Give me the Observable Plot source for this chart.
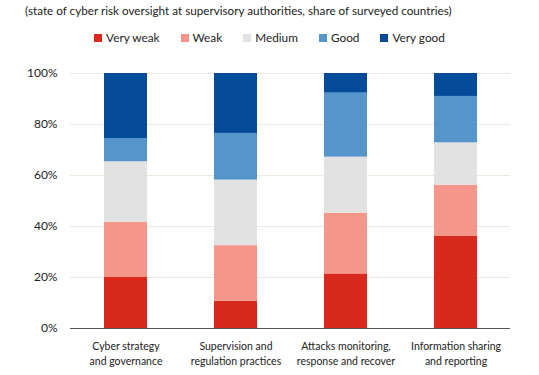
<!DOCTYPE html>
<html>
<head>
<meta charset="utf-8">
<script src="https://cdn.jsdelivr.net/npm/d3@7"></script>
<script src="https://cdn.jsdelivr.net/npm/@observablehq/plot@0.6"></script>
<style>
  html, body { margin: 0; padding: 0; background: #fff; }
  body { width: 539px; height: 375px; overflow: hidden; font-family: Lato, "Open Sans", sans-serif; color: #222; }
  #title { height: 20px; padding-left: 25px; font-size: 11.7px; line-height: 20px; white-space: nowrap; }
  #legend { height: 35px; display: flex; justify-content: center; align-items: center; font-size: 11.8px; padding-left: 0px; box-sizing: border-box; }
  #legend .item { display: flex; align-items: center; margin: 0 10.5px; }
  #legend .sw { width: 8px; height: 8px; margin-right: 4px; }
</style>
</head>
<body>
<div id="title">(state of cyber risk oversight at supervisory authorities, share of surveyed countries)</div>
<div id="legend"></div>
<div id="chart"></div>
<script>
const categories = [
  "Cyber strategy\nand governance",
  "Supervision and\nregulation practices",
  "Attacks monitoring,\nresponse and recover",
  "Information sharing\nand reporting"
];
const levels = ["Very weak", "Weak", "Medium", "Good", "Very good"];
const colors = ["#d9291c", "#f4968a", "#e2e2e2", "#5595cc", "#044c9a"];
// shares (%) per category, in order of levels
const veryWeak = [20.0, 10.7, 21.4, 36.1];
const weak     = [21.6, 21.8, 23.8, 20.1];
const medium   = [23.8, 25.7, 22.0, 16.6];
const good     = [9.1, 18.3, 25.1, 18.2];
const veryGood = [25.5, 23.5, 7.7, 9.0];
const yTicks = [0, 20, 40, 60, 80, 100];

const series = [veryWeak, weak, medium, good, veryGood];
const rows = [];
categories.forEach((c, i) => {
  levels.forEach((l, j) => rows.push({category: c, level: l, value: series[j][i]}));
});

const legend = document.getElementById("legend");
levels.forEach((l, j) => {
  const it = document.createElement("div");
  it.className = "item";
  it.innerHTML = `<span class="sw" style="background:${colors[j]}"></span><span>${l}</span>`;
  legend.appendChild(it);
});

const chart = Plot.plot({
  width: 539,
  height: 320,
  marginTop: 18,
  marginBottom: 47,
  marginLeft: 70,
  marginRight: 29,
  style: {fontFamily: "Lato, 'Open Sans', sans-serif", fontSize: "12px", color: "#222", background: "#fff"},
  x: {domain: categories, paddingInner: 0.61, paddingOuter: 0.305, label: null},
  y: {domain: [0, 100], label: null},
  color: {domain: levels, range: colors},
  marks: [
    Plot.gridY(yTicks, {stroke: "#ede9df", strokeOpacity: 1, strokeWidth: 1}),
    Plot.barY(rows, Plot.stackY({x: "category", y: "value", fill: "level", order: levels})),
    Plot.ruleY([0], {stroke: "#555", strokeWidth: 1}),
    Plot.axisY(yTicks, {tickSize: 0, tickPadding: 13, tickFormat: d => d + "%", fontSize: 12, fill: "#222"}),
    Plot.axisX({tickSize: 0, tickPadding: 11, fontSize: 10.5, lineHeight: 1.4, fill: "#222", label: null})
  ]
});
document.getElementById("chart").appendChild(chart);
</script>
</body>
</html>
